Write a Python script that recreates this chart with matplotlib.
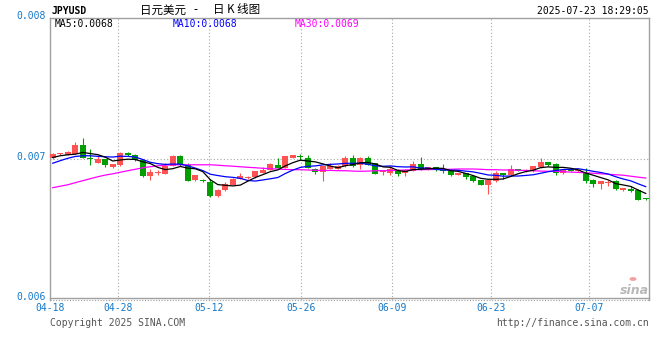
import numpy as np
import pandas as pd
import matplotlib
matplotlib.use('Agg')
import matplotlib.pyplot as plt
from matplotlib.lines import Line2D
from matplotlib.patches import Circle

# JPYUSD daily candles (04-18 .. 07-23)
opens = [0.007008, 0.007034, 0.007029, 0.007040, 0.007102, 0.007003, 0.006976, 0.007000, 0.006941, 0.006958,
         0.007045, 0.007031, 0.006996, 0.006877, 0.006903, 0.006898, 0.006953, 0.007024, 0.006955, 0.006849,
         0.006850, 0.006837, 0.006735, 0.006778, 0.006820, 0.006859, 0.006863, 0.006870, 0.006903, 0.006925,
         0.006960, 0.006937, 0.007008, 0.007017, 0.007008, 0.006932, 0.006908, 0.006932, 0.006932, 0.006948,
         0.007008, 0.006960, 0.007008, 0.006972, 0.006906, 0.006901, 0.006925, 0.006901, 0.006918, 0.006965,
         0.006925, 0.006944, 0.006922, 0.006913, 0.006887, 0.006901, 0.006877, 0.006849, 0.006820, 0.006842,
         0.006901, 0.006884, 0.006930, 0.006913, 0.006913, 0.006941, 0.006979, 0.006967, 0.006901, 0.006930,
         0.006914, 0.006903, 0.006854, 0.006823, 0.006832, 0.006842, 0.006778, 0.006790, 0.006778, 0.006720]
highs = [0.007045, 0.007042, 0.007059, 0.007123, 0.007152, 0.007071, 0.007029, 0.007003, 0.006967, 0.007049,
         0.007049, 0.007038, 0.007000, 0.006932, 0.006925, 0.006972, 0.007031, 0.007027, 0.006972, 0.006886,
         0.006861, 0.006861, 0.006786, 0.006835, 0.006864, 0.006901, 0.006879, 0.006918, 0.006944, 0.006971,
         0.007010, 0.007024, 0.007029, 0.007036, 0.007031, 0.006935, 0.006951, 0.006972, 0.006955, 0.007019,
         0.007026, 0.007014, 0.007019, 0.006974, 0.006920, 0.006948, 0.006927, 0.006927, 0.006989, 0.007012,
         0.006946, 0.006946, 0.006965, 0.006915, 0.006903, 0.006903, 0.006880, 0.006852, 0.006852, 0.006913,
         0.006903, 0.006960, 0.006932, 0.006927, 0.006951, 0.007008, 0.006981, 0.006971, 0.006927, 0.006932,
         0.006924, 0.006939, 0.006856, 0.006845, 0.006854, 0.006854, 0.006797, 0.006806, 0.006787, 0.006724]
lows = [0.007003, 0.007031, 0.007027, 0.007038, 0.007006, 0.006962, 0.006974, 0.006941, 0.006939, 0.006948,
        0.007024, 0.006989, 0.006875, 0.006849, 0.006887, 0.006896, 0.006951, 0.006953, 0.006843, 0.006847,
        0.006835, 0.006733, 0.006733, 0.006771, 0.006816, 0.006857, 0.006861, 0.006868, 0.006901, 0.006921,
        0.006935, 0.006934, 0.007006, 0.006991, 0.006934, 0.006894, 0.006842, 0.006930, 0.006930, 0.006946,
        0.006946, 0.006930, 0.006958, 0.006894, 0.006891, 0.006891, 0.006882, 0.006877, 0.006915, 0.006923,
        0.006923, 0.006918, 0.006901, 0.006882, 0.006884, 0.006861, 0.006840, 0.006818, 0.006755, 0.006840,
        0.006859, 0.006882, 0.006915, 0.006910, 0.006910, 0.006939, 0.006953, 0.006889, 0.006898, 0.006915,
        0.006911, 0.006832, 0.006804, 0.006790, 0.006811, 0.006783, 0.006776, 0.006764, 0.006708, 0.006713]
closes = [0.007038, 0.007038, 0.007052, 0.007102, 0.007008, 0.006999, 0.007000, 0.006962, 0.006965, 0.007045,
          0.007026, 0.006991, 0.006877, 0.006906, 0.006907, 0.006948, 0.007024, 0.006955, 0.006847, 0.006884,
          0.006847, 0.006735, 0.006783, 0.006823, 0.006861, 0.006877, 0.006875, 0.006913, 0.006925, 0.006967,
          0.006939, 0.007019, 0.007026, 0.007013, 0.006937, 0.006908, 0.006948, 0.006948, 0.006953, 0.007011,
          0.006948, 0.007011, 0.006960, 0.006896, 0.006911, 0.006932, 0.006896, 0.006925, 0.006965, 0.006925,
          0.006944, 0.006920, 0.006918, 0.006884, 0.006901, 0.006873, 0.006842, 0.006820, 0.006849, 0.006901,
          0.006884, 0.006930, 0.006918, 0.006925, 0.006948, 0.006979, 0.006955, 0.006901, 0.006925, 0.006918,
          0.006921, 0.006843, 0.006823, 0.006842, 0.006836, 0.006788, 0.006795, 0.006771, 0.006712, 0.006717]

# moving averages whose window reaches back before 04-18
ma5_head = [0.007012, 0.007024, 0.007031, 0.007035]
ma10_head = [0.006971, 0.006989, 0.007006, 0.007019, 0.007024, 0.007024, 0.007020, 0.007017, 0.007015]
ma30 = [0.006797, 0.006808, 0.006818, 0.006833, 0.006847, 0.006861, 0.006875, 0.006887, 0.006896, 0.006907,
        0.006918, 0.006928, 0.006939, 0.006946, 0.006953, 0.006957, 0.006960, 0.006960, 0.006960, 0.006960,
        0.006960, 0.006960, 0.006957, 0.006953, 0.006950, 0.006946, 0.006942, 0.006939, 0.006935, 0.006932,
        0.006930, 0.006927, 0.006925, 0.006925, 0.006923, 0.006921, 0.006920, 0.006920, 0.006918, 0.006918,
        0.006915, 0.006914, 0.006915, 0.006918, 0.006918, 0.006920, 0.006921, 0.006923, 0.006925, 0.006925,
        0.006926, 0.006927, 0.006928, 0.006928, 0.006930, 0.006930, 0.006930, 0.006928, 0.006925, 0.006925,
        0.006923, 0.006923, 0.006921, 0.006920, 0.006918, 0.006915, 0.006914, 0.006913, 0.006911, 0.006908,
        0.006906, 0.006903, 0.006900, 0.006896, 0.006893, 0.006889, 0.006886, 0.006879, 0.006872, 0.006866]

date_labels = ['04-18', '04-28', '05-12', '05-26', '06-09', '06-23', '07-07']
y_ticks = [0.006, 0.007, 0.008]
ma_texts = ['MA5:0.0068', 'MA10:0.0068', 'MA30:0.0069']

RED = '#ff5252'
GREEN = '#009e00'
BLUE_LBL = '#1478c8'
MONO = 'DejaVu Sans Mono'
CJK = ['Noto Sans CJK SC', 'DejaVu Sans']

n = len(closes)
x = np.arange(n)
o = np.array(opens)
c = np.array(closes)
cl = pd.Series(closes)
ma5 = cl.rolling(5).mean().values
ma5[:4] = ma5_head
ma10 = cl.rolling(10).mean().values
ma10[:9] = ma10_head

W, H = 660, 360
fig = plt.figure(figsize=(6.6, 3.6), dpi=100)
ax = fig.add_axes([50 / W, 1 - 300 / H, 599.3 / W, 281.7 / H])
ax.set_xlim(-0.36, 79.48)
ax.set_ylim(0.006, 0.008)

# frame
for s in ['left', 'top', 'right']:
    ax.spines[s].set_color('#a0a0a0')
    ax.spines[s].set_linewidth(1.0)
ax.spines['bottom'].set_visible(False)
ax.axhline(0.006, color='#a0a0a0', lw=0.8, ls=(0, (1, 1.5)), clip_on=False)
fig.add_artist(Line2D([50 / W, 649.3 / W], [1 - 297.7 / H] * 2, color='#a0a0a0', lw=1.0))

# grid
grid_pos = [8.75, 20.85, 33.05, 45.15, 58.35, 71.5]
for gx in grid_pos:
    ax.axvline(gx, color='#a8a8a8', lw=0.8, ls=(0, (1, 2)), zorder=0)
ax.axhline(0.007, color='#a8a8a8', lw=0.8, ls=(0, (1, 2)), zorder=0)

# candles
up = c >= o
colors = np.where(up, RED, GREEN)
one_px = 0.002 / 281.7
bottoms = np.minimum(o, c)
heights = np.maximum(np.abs(c - o), one_px)
ax.vlines(x, lows, highs, colors=colors, lw=0.8, zorder=2)
ax.bar(x, heights, bottom=bottoms, width=0.8, color=colors, linewidth=0, zorder=3)

# moving averages
ax.plot(x, ma30, color='#ff00ff', lw=0.9, zorder=4)
ax.plot(x, ma10, color='#0000ff', lw=0.9, zorder=5)
ax.plot(x, ma5, color='#000000', lw=0.9, zorder=6)

ax.set_xticks([])
ax.set_yticks([])

# y labels, a little above their grid line
for v in y_ticks:
    ax.annotate('%.3f' % v, xy=(0, v), xycoords=('axes fraction', 'data'),
                xytext=(-3, 1.8), textcoords='offset points', ha='right', va='center',
                fontsize=7, family=MONO, color=BLUE_LBL, annotation_clip=False)

# x labels
x_lbl_pos = [ax.get_xlim()[0]] + grid_pos
for xp, lbl in zip(x_lbl_pos, date_labels):
    ax.annotate(lbl, xy=(xp, 0), xycoords=('data', 'axes fraction'),
                xytext=(0, -6), textcoords='offset points', ha='center', va='center',
                fontsize=7, family=MONO, color=BLUE_LBL, annotation_clip=False)

# MA legend
for px, txt, col in zip([55, 173, 295], ma_texts, ['#000000', '#0000ff', '#ff00ff']):
    fig.text(px / W, 1 - 24 / H, txt, fontsize=7, family=MONO, color=col, ha='left', va='center')

# header
fig.text(52 / W, 1 - 10.5 / H, 'JPYUSD', fontsize=7, family=MONO, color='#000000',
         ha='left', va='center', fontweight='bold')
fig.text(140 / W, 1 - 10 / H, '日元美元', fontsize=8.3, family=CJK, color='#000000',
         ha='left', va='center')
fig.text(195 / W, 1 - 10 / H, '-', fontsize=8.3, family=CJK, color='#000000',
         ha='center', va='center')
fig.text(213 / W, 1 - 10 / H, '日 K 线图', fontsize=8.3, family=CJK, color='#000000',
         ha='left', va='center')
fig.text(649 / W, 1 - 11 / H, '2025-07-23 18:29:05', fontsize=7, family=MONO,
         color='#000000', ha='right', va='center')

# footer
fig.text(50 / W, 1 - 323.5 / H, 'Copyright 2025 SINA.COM', fontsize=7, family=MONO,
         color='#555555', ha='left', va='center')
fig.text(649 / W, 1 - 323.5 / H, 'http://finance.sina.com.cn', fontsize=7, family=MONO,
         color='#555555', ha='right', va='center')

# sina watermark
fig.text(634 / W, 1 - 290 / H, 'sina', fontsize=9, fontweight='bold', style='italic',
         color='#b8b8b8', ha='center', va='center')
fig.add_artist(Circle((633 / W, 1 - 279 / H), 3.5 / W, transform=fig.transFigure,
                      facecolor='#f3a0a0', edgecolor='none'))

fig.savefig('out.png', dpi=100)
